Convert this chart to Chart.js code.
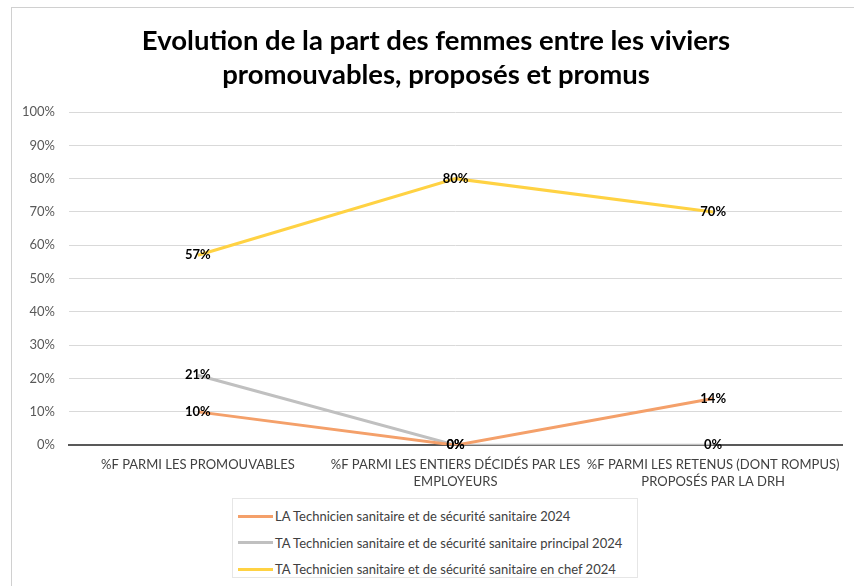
<!DOCTYPE html>
<html>
<head>
<meta charset="utf-8">
<script src="https://cdn.jsdelivr.net/npm/chart.js@4"></script>
<style>
  body { margin: 0; background: #fff; font-family: Lato, sans-serif; }
  #wrap { position: relative; width: 854px; height: 586px; overflow: hidden; }
  #frame { position: absolute; left: 11px; top: 7px; width: 900px; height: 700px; border: 1px solid #d0d0d0; }
  #chartBox { position: absolute; left: 0; top: 0; width: 854px; height: 505px; }
  #title { position: absolute; left: 18px; top: 23px; width: 836px; text-align: center; font: bold 27.5px/34px Lato, sans-serif; color: #000; }
  #legend { position: absolute; left: 232px; top: 498px; width: 406px; height: 80px; border: 1px solid #e6e6e6; box-sizing: border-box; padding-top: 4px; background: #fff; }
  .item { display: flex; align-items: center; height: 26.5px; font-size: 13px; color: #404040; }
  .swatch { width: 35px; height: 3px; margin: 0 2px 0 5px; }
</style>
</head>
<body>
<div id="wrap">
  <div id="frame"></div>
  <div id="chartBox"><canvas id="partFemmesChart"></canvas></div>
  <div id="title">Evolution de la part des femmes entre les viviers<br>promouvables, proposés et promus</div>
  <div id="legend"></div>
</div>
<script>
// Categories (x axis)
const categories = [
  ['%F PARMI LES PROMOUVABLES'],
  ['%F PARMI LES ENTIERS DÉCIDÉS PAR LES', 'EMPLOYEURS'],
  ['%F PARMI LES RETENUS (DONT ROMPUS)', 'PROPOSÉS PAR LA DRH']
];

// Series values (%)
const technicienLA = [10, 0, 14];
const technicienPrincipal = [21, 0, 0];
const technicienChef = [57, 80, 70];

const seriesNames = [
  'LA Technicien sanitaire et de sécurité sanitaire 2024',
  'TA Technicien sanitaire et de sécurité sanitaire principal 2024',
  'TA Technicien sanitaire et de sécurité sanitaire en chef 2024'
];

const yTicks = [0, 10, 20, 30, 40, 50, 60, 70, 80, 90, 100];

// Simple data label plugin (value drawn centered on each point)
const pointLabels = {
  id: 'pointLabels',
  afterDatasetsDraw(chart) {
    const ctx = chart.ctx;
    ctx.save();
    ctx.font = 'bold 13px Lato, sans-serif';
    ctx.fillStyle = '#000';
    ctx.textAlign = 'center';
    ctx.textBaseline = 'middle';
    chart.data.datasets.forEach((ds, i) => {
      chart.getDatasetMeta(i).data.forEach((pt, j) => {
        ctx.fillText(ds.data[j] + '%', pt.x, pt.y);
      });
    });
    ctx.restore();
  }
};

const ctx = document.getElementById('partFemmesChart').getContext('2d');

const chart = new Chart(ctx, {
  type: 'line',
  data: {
    labels: categories,
    datasets: [
      { label: seriesNames[0], data: technicienLA, borderColor: '#F4A06A', backgroundColor: '#F4A06A' },
      { label: seriesNames[1], data: technicienPrincipal, borderColor: '#C0C0C0', backgroundColor: '#C0C0C0' },
      { label: seriesNames[2], data: technicienChef, borderColor: '#FFD243', backgroundColor: '#FFD243' }
    ]
  },
  options: {
    responsive: true,
    maintainAspectRatio: false,
    animation: false,
    elements: {
      line: { borderWidth: 3, tension: 0 },
      point: { radius: 0, hoverRadius: 0 }
    },
    layout: { padding: { left: 8, right: 12, top: 112, bottom: 4 } },
    plugins: {
      legend: { display: false },
      tooltip: { enabled: false },
      title: { display: false }
    },
    scales: {
      x: {
        offset: true,
        grid: { display: false, drawTicks: false },
        border: { display: true, color: '#595959', width: 2 },
        ticks: { color: '#404040', font: { family: 'Lato, sans-serif', size: 13, lineHeight: 1.3 }, padding: 11, maxRotation: 0, autoSkip: false }
      },
      y: {
        min: 0,
        max: 100,
        afterBuildTicks: (axis) => { axis.ticks = yTicks.map(v => ({ value: v })); },
        grid: {
          drawTicks: false,
          color: (c) => c.tick && c.tick.value === 0 ? '#595959' : '#d9d9d9',
          lineWidth: (c) => c.tick && c.tick.value === 0 ? 2 : 1
        },
        border: { display: false },
        ticks: {
          color: '#595959',
          font: { family: 'Lato, sans-serif', size: 13 },
          padding: 14,
          callback: (v) => v + '%'
        }
      }
    }
  },
  plugins: [pointLabels]
});

// HTML legend, stacked vertically in a light box
const legendEl = document.getElementById('legend');
chart.data.datasets.forEach(ds => {
  const item = document.createElement('div');
  item.className = 'item';
  const sw = document.createElement('span');
  sw.className = 'swatch';
  sw.style.background = ds.borderColor;
  const txt = document.createElement('span');
  txt.textContent = ds.label;
  item.appendChild(sw);
  item.appendChild(txt);
  legendEl.appendChild(item);
});
</script>
</body>
</html>
